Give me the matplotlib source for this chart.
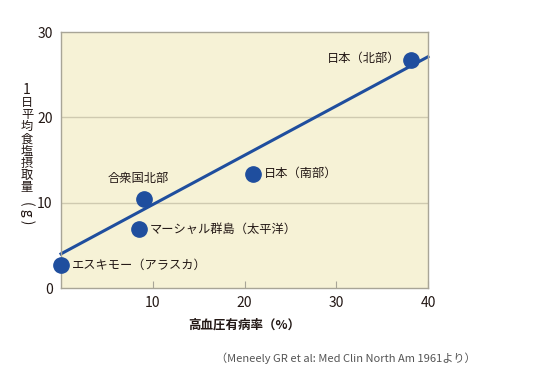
import matplotlib
matplotlib.use("Agg")
import matplotlib.pyplot as plt

plt.rcParams['font.family'] = ['Noto Sans CJK JP', 'DejaVu Sans']

# data
countries = ["エスキモー（アラスカ）", "マーシャル群島（太平洋）", "合衆国北部", "日本（南部）", "日本（北部）"]
hypertension = [0.0, 8.5, 9.1, 20.9, 38.1]
salt = [2.7, 6.9, 10.4, 13.4, 26.7]
trend_x = [0, 40]
trend_y = [4.0, 27.1]
xticks = [10, 20, 30, 40]
yticks = [0, 10, 20, 30]
ylabel_chars = list("1日平均食塩摂取量")
ylabel_unit = "( g )"

blue = "#1f4e9e"
txt = "#231815"

fig = plt.figure(figsize=(5.38, 3.75), dpi=100)
ax = fig.add_axes([61/538, 87/375, 367/538, 256/375])
ax.set_facecolor("#f6f2d6")
ax.set_xlim(0, 40)
ax.set_ylim(0, 30)

for y in [10, 20]:
    ax.axhline(y, color="#cfcab0", lw=1.0, zorder=1)

ax.plot(trend_x, trend_y, color=blue, lw=2.2, zorder=2, clip_on=False)
ax.plot(hypertension, salt, 'o', color=blue, ms=11, zorder=3, clip_on=False)

# point labels
offsets = {
    0: (1.2, 0, 'left', 'center'),
    1: (1.2, 0, 'left', 'center'),
    2: (-0.7, 1.7, 'center', 'bottom'),
    3: (1.2, 0, 'left', 'center'),
    4: (-1.1, 0.2, 'right', 'center'),
}
for i, name in enumerate(countries):
    dx, dy, ha, va = offsets[i]
    ax.text(hypertension[i] + dx, salt[i] + dy, name, ha=ha, va=va,
            fontsize=8.8, color=txt, zorder=4)

for s in ax.spines.values():
    s.set_color("#a8a597")
    s.set_linewidth(1.0)

ax.set_xticks(xticks)
ax.set_xticklabels([str(v) for v in xticks])
ax.set_yticks(yticks)
ax.set_yticklabels([str(v) for v in yticks])
ax.tick_params(axis='x', direction='in', length=5, color="#a8a597", pad=6,
               labelsize=10, labelcolor=txt)
ax.tick_params(axis='y', length=0, pad=6, labelsize=10, labelcolor=txt)

# x label
fig.text(244/538, 1 - 325/375, "高血圧有病率（%）", ha='center', va='center',
         fontsize=9, color=txt, fontweight='bold')

# y label (vertical stacked, one char per line)
y0 = 90
step = 12.25
for k, ch in enumerate(ylabel_chars):
    fig.text(27/538, 1 - (y0 + k * step)/375, ch, ha='center', va='center',
             fontsize=10 if k == 0 else 8.8, color=txt)
fig.text(27/538, 1 - 213/375, ylabel_unit, ha='center', va='center', rotation=270,
         fontsize=10, color=txt)

# source
fig.text(346/538, 1 - 358/375, "（Meneely GR et al: Med Clin North Am 1961より）",
         ha='center', va='center', fontsize=8, color="#555555")

fig.savefig("out.png", dpi=100)
